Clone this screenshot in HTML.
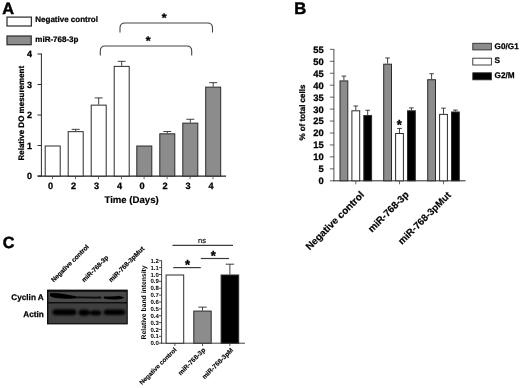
<!DOCTYPE html>
<html><head><meta charset="utf-8"><title>Figure</title>
<style>
html,body{margin:0;padding:0;background:#fff;}
body{width:520px;height:388px;overflow:hidden;font-family:"Liberation Sans",Arial,sans-serif;}
svg{display:block}
svg text{font-family:"Liberation Sans",Arial,sans-serif;text-rendering:geometricPrecision;}
</style></head><body>
<svg width="520" height="388" viewBox="0 0 520 388">
<rect x="0" y="0" width="520" height="388" fill="#fff"/>
<text x="2.2" y="13.7" font-size="16.3" font-weight="bold" stroke="#000" stroke-width="0.49" text-anchor="start" fill="#000">A</text>
<rect x="7" y="17.1" width="24.4" height="8.9" fill="#fff" stroke="#303030" stroke-width="1.25"/>
<rect x="7" y="36" width="24.2" height="8.7" fill="#8c8c8c" stroke="#303030" stroke-width="1.25"/>
<text x="35.3" y="22" font-size="8" font-weight="bold" stroke="#000" stroke-width="0.24" text-anchor="start" fill="#000">Negative control</text>
<text x="35.3" y="42" font-size="8" font-weight="bold" stroke="#000" stroke-width="0.24" text-anchor="start" fill="#000">miR-768-3p</text>
<line x1="41.4" y1="53.5" x2="41.4" y2="176.5" stroke="#2b2b2b" stroke-width="1"/>
<line x1="37.7" y1="176.1" x2="226" y2="176.1" stroke="#222" stroke-width="1.1"/>
<line x1="37.5" y1="176.0" x2="41.4" y2="176.0" stroke="#2b2b2b" stroke-width="1"/>
<text x="32" y="179.2" font-size="9" font-weight="bold" stroke="#000" stroke-width="0.27" text-anchor="end" fill="#000">0</text>
<line x1="37.5" y1="145.5" x2="41.4" y2="145.5" stroke="#2b2b2b" stroke-width="1"/>
<text x="32" y="148.7" font-size="9" font-weight="bold" stroke="#000" stroke-width="0.27" text-anchor="end" fill="#000">1</text>
<line x1="37.5" y1="115.0" x2="41.4" y2="115.0" stroke="#2b2b2b" stroke-width="1"/>
<text x="32" y="118.2" font-size="9" font-weight="bold" stroke="#000" stroke-width="0.27" text-anchor="end" fill="#000">2</text>
<line x1="37.5" y1="84.5" x2="41.4" y2="84.5" stroke="#2b2b2b" stroke-width="1"/>
<text x="32" y="87.7" font-size="9" font-weight="bold" stroke="#000" stroke-width="0.27" text-anchor="end" fill="#000">3</text>
<line x1="37.5" y1="54.0" x2="41.4" y2="54.0" stroke="#2b2b2b" stroke-width="1"/>
<text x="32" y="57.2" font-size="9" font-weight="bold" stroke="#000" stroke-width="0.27" text-anchor="end" fill="#000">4</text>
<text x="24.3" y="113.2" font-size="8.0" font-weight="bold" stroke="#000" stroke-width="0.24" text-anchor="middle" fill="#000" transform="rotate(-90 24.3 113.2)">Relative DO mesurement</text>
<rect x="45.2" y="146.0" width="15.0" height="30.0" fill="#fff" stroke="#2b2b2b" stroke-width="1"/>
<line x1="52.5" y1="176.0" x2="52.5" y2="179.2" stroke="#444" stroke-width="0.8"/>
<text x="50.5" y="188.9" font-size="9.2" font-weight="bold" stroke="#000" stroke-width="0.28" text-anchor="middle" fill="#000">0</text>
<line x1="75.7" y1="129.335" x2="75.7" y2="131.165" stroke="#2b2b2b" stroke-width="0.9"/>
<line x1="71.7" y1="129.335" x2="79.7" y2="129.335" stroke="#2b2b2b" stroke-width="0.9"/>
<rect x="68.2" y="131.665" width="15.0" height="44.33500000000001" fill="#fff" stroke="#2b2b2b" stroke-width="1"/>
<line x1="75.5" y1="176.0" x2="75.5" y2="179.2" stroke="#444" stroke-width="0.8"/>
<text x="73.5" y="188.9" font-size="9.2" font-weight="bold" stroke="#000" stroke-width="0.28" text-anchor="middle" fill="#000">2</text>
<line x1="98.7" y1="97.92" x2="98.7" y2="104.63000000000001" stroke="#2b2b2b" stroke-width="0.9"/>
<line x1="94.7" y1="97.92" x2="102.7" y2="97.92" stroke="#2b2b2b" stroke-width="0.9"/>
<rect x="91.2" y="105.13000000000001" width="15.0" height="70.86999999999999" fill="#fff" stroke="#2b2b2b" stroke-width="1"/>
<line x1="98.5" y1="176.0" x2="98.5" y2="179.2" stroke="#444" stroke-width="0.8"/>
<text x="96.5" y="188.9" font-size="9.2" font-weight="bold" stroke="#000" stroke-width="0.28" text-anchor="middle" fill="#000">3</text>
<line x1="121.69999999999999" y1="61.32000000000001" x2="121.69999999999999" y2="65.89500000000001" stroke="#2b2b2b" stroke-width="0.9"/>
<line x1="117.69999999999999" y1="61.32000000000001" x2="125.69999999999999" y2="61.32000000000001" stroke="#2b2b2b" stroke-width="0.9"/>
<rect x="114.2" y="66.39500000000001" width="14.999999999999986" height="109.60499999999999" fill="#fff" stroke="#2b2b2b" stroke-width="1"/>
<line x1="121.49999999999999" y1="176.0" x2="121.49999999999999" y2="179.2" stroke="#444" stroke-width="0.8"/>
<text x="119.49999999999999" y="188.9" font-size="9.2" font-weight="bold" stroke="#000" stroke-width="0.28" text-anchor="middle" fill="#000">4</text>
<rect x="136.8" y="146.0" width="15.0" height="30.0" fill="#8c8c8c" stroke="#2b2b2b" stroke-width="1"/>
<line x1="144.10000000000002" y1="176.0" x2="144.10000000000002" y2="179.2" stroke="#444" stroke-width="0.8"/>
<text x="142.10000000000002" y="188.9" font-size="9.2" font-weight="bold" stroke="#000" stroke-width="0.28" text-anchor="middle" fill="#000">0</text>
<line x1="167.3" y1="131.47" x2="167.3" y2="133.3" stroke="#2b2b2b" stroke-width="0.9"/>
<line x1="163.3" y1="131.47" x2="171.3" y2="131.47" stroke="#2b2b2b" stroke-width="0.9"/>
<rect x="159.8" y="133.8" width="15.0" height="42.19999999999999" fill="#8c8c8c" stroke="#2b2b2b" stroke-width="1"/>
<line x1="167.10000000000002" y1="176.0" x2="167.10000000000002" y2="179.2" stroke="#444" stroke-width="0.8"/>
<text x="165.10000000000002" y="188.9" font-size="9.2" font-weight="bold" stroke="#000" stroke-width="0.28" text-anchor="middle" fill="#000">2</text>
<line x1="190.3" y1="119.27" x2="190.3" y2="122.625" stroke="#2b2b2b" stroke-width="0.9"/>
<line x1="186.3" y1="119.27" x2="194.3" y2="119.27" stroke="#2b2b2b" stroke-width="0.9"/>
<rect x="182.8" y="123.125" width="15.0" height="52.875" fill="#8c8c8c" stroke="#2b2b2b" stroke-width="1"/>
<line x1="190.10000000000002" y1="176.0" x2="190.10000000000002" y2="179.2" stroke="#444" stroke-width="0.8"/>
<text x="188.10000000000002" y="188.9" font-size="9.2" font-weight="bold" stroke="#000" stroke-width="0.28" text-anchor="middle" fill="#000">3</text>
<line x1="213.2" y1="82.67" x2="213.2" y2="86.63499999999999" stroke="#2b2b2b" stroke-width="0.9"/>
<line x1="209.2" y1="82.67" x2="217.2" y2="82.67" stroke="#2b2b2b" stroke-width="0.9"/>
<rect x="205.7" y="87.13499999999999" width="15.0" height="88.86500000000001" fill="#8c8c8c" stroke="#2b2b2b" stroke-width="1"/>
<line x1="213.0" y1="176.0" x2="213.0" y2="179.2" stroke="#444" stroke-width="0.8"/>
<text x="211.0" y="188.9" font-size="9.2" font-weight="bold" stroke="#000" stroke-width="0.28" text-anchor="middle" fill="#000">4</text>
<text x="131.6" y="203.3" font-size="9.6" font-weight="bold" stroke="#000" stroke-width="0.17" text-anchor="middle" fill="#000">Time (Days)</text>
<path d="M120,32.5 V28 Q120,23 125,23 H207.5 Q212.5,23 212.5,28 V32.5" fill="none" stroke="#444" stroke-width="1.1"/>
<path d="M100.3,55.5 V51 Q100.3,46 105.3,46 H186.7 Q191.7,46 191.7,51 V55.5" fill="none" stroke="#444" stroke-width="1.1"/>
<text x="164.2" y="22.2" font-size="12.5" font-weight="bold" stroke="#000" stroke-width="0.38" text-anchor="middle" fill="#000">*</text>
<text x="148.2" y="45.3" font-size="12.5" font-weight="bold" stroke="#000" stroke-width="0.38" text-anchor="middle" fill="#000">*</text>
<text x="294.2" y="14.4" font-size="16.6" font-weight="bold" stroke="#000" stroke-width="0.5" text-anchor="start" fill="#000">B</text>
<line x1="333.9" y1="49" x2="333.9" y2="181.3" stroke="#3a3a3a" stroke-width="0.9"/>
<line x1="333.4" y1="180.8" x2="465.5" y2="180.8" stroke="#2b2b2b" stroke-width="1"/>
<line x1="329.9" y1="180.8" x2="333.9" y2="180.8" stroke="#3a3a3a" stroke-width="0.8"/>
<text x="323.7" y="184.20000000000002" font-size="9.4" font-weight="bold" stroke="#000" stroke-width="0.28" text-anchor="end" fill="#000">0</text>
<line x1="329.9" y1="168.85000000000002" x2="333.9" y2="168.85000000000002" stroke="#3a3a3a" stroke-width="0.8"/>
<text x="323.7" y="172.25000000000003" font-size="9.4" font-weight="bold" stroke="#000" stroke-width="0.28" text-anchor="end" fill="#000">5</text>
<line x1="329.9" y1="156.9" x2="333.9" y2="156.9" stroke="#3a3a3a" stroke-width="0.8"/>
<text x="323.7" y="160.3" font-size="9.4" font-weight="bold" stroke="#000" stroke-width="0.28" text-anchor="end" fill="#000">10</text>
<line x1="329.9" y1="144.95000000000002" x2="333.9" y2="144.95000000000002" stroke="#3a3a3a" stroke-width="0.8"/>
<text x="323.7" y="148.35000000000002" font-size="9.4" font-weight="bold" stroke="#000" stroke-width="0.28" text-anchor="end" fill="#000">15</text>
<line x1="329.9" y1="133.0" x2="333.9" y2="133.0" stroke="#3a3a3a" stroke-width="0.8"/>
<text x="323.7" y="136.4" font-size="9.4" font-weight="bold" stroke="#000" stroke-width="0.28" text-anchor="end" fill="#000">20</text>
<line x1="329.9" y1="121.05000000000001" x2="333.9" y2="121.05000000000001" stroke="#3a3a3a" stroke-width="0.8"/>
<text x="323.7" y="124.45000000000002" font-size="9.4" font-weight="bold" stroke="#000" stroke-width="0.28" text-anchor="end" fill="#000">25</text>
<line x1="329.9" y1="109.10000000000001" x2="333.9" y2="109.10000000000001" stroke="#3a3a3a" stroke-width="0.8"/>
<text x="323.7" y="112.50000000000001" font-size="9.4" font-weight="bold" stroke="#000" stroke-width="0.28" text-anchor="end" fill="#000">30</text>
<line x1="329.9" y1="97.15" x2="333.9" y2="97.15" stroke="#3a3a3a" stroke-width="0.8"/>
<text x="323.7" y="100.55000000000001" font-size="9.4" font-weight="bold" stroke="#000" stroke-width="0.28" text-anchor="end" fill="#000">35</text>
<line x1="329.9" y1="85.2" x2="333.9" y2="85.2" stroke="#3a3a3a" stroke-width="0.8"/>
<text x="323.7" y="88.60000000000001" font-size="9.4" font-weight="bold" stroke="#000" stroke-width="0.28" text-anchor="end" fill="#000">40</text>
<line x1="329.9" y1="73.25" x2="333.9" y2="73.25" stroke="#3a3a3a" stroke-width="0.8"/>
<text x="323.7" y="76.65" font-size="9.4" font-weight="bold" stroke="#000" stroke-width="0.28" text-anchor="end" fill="#000">45</text>
<line x1="329.9" y1="61.30000000000001" x2="333.9" y2="61.30000000000001" stroke="#3a3a3a" stroke-width="0.8"/>
<text x="323.7" y="64.70000000000002" font-size="9.4" font-weight="bold" stroke="#000" stroke-width="0.28" text-anchor="end" fill="#000">50</text>
<line x1="329.9" y1="49.349999999999994" x2="333.9" y2="49.349999999999994" stroke="#3a3a3a" stroke-width="0.8"/>
<text x="323.7" y="52.74999999999999" font-size="9.4" font-weight="bold" stroke="#000" stroke-width="0.28" text-anchor="end" fill="#000">55</text>
<text x="305.4" y="112.6" font-size="8.0" font-weight="bold" stroke="#000" stroke-width="0.24" text-anchor="middle" fill="#000" transform="rotate(-90 305.4 112.6)">% of total cells</text>
<line x1="343.9" y1="76.11800000000001" x2="343.9" y2="80.42" stroke="#2b2b2b" stroke-width="0.9"/>
<line x1="341.59999999999997" y1="76.11800000000001" x2="346.2" y2="76.11800000000001" stroke="#2b2b2b" stroke-width="0.9"/>
<rect x="340.0" y="80.92" width="7.800000000000011" height="99.88000000000001" fill="#8c8c8c" stroke="#2b2b2b" stroke-width="1"/>
<line x1="355.79999999999995" y1="105.99300000000001" x2="355.79999999999995" y2="110.295" stroke="#2b2b2b" stroke-width="0.9"/>
<line x1="353.49999999999994" y1="105.99300000000001" x2="358.09999999999997" y2="105.99300000000001" stroke="#2b2b2b" stroke-width="0.9"/>
<rect x="351.9" y="110.795" width="7.800000000000011" height="70.00500000000001" fill="#fff" stroke="#2b2b2b" stroke-width="1"/>
<line x1="367.70000000000005" y1="110.295" x2="367.70000000000005" y2="115.075" stroke="#2b2b2b" stroke-width="0.9"/>
<line x1="365.40000000000003" y1="110.295" x2="370.00000000000006" y2="110.295" stroke="#2b2b2b" stroke-width="0.9"/>
<rect x="363.8" y="115.575" width="7.800000000000011" height="65.22500000000001" fill="#000" stroke="#2b2b2b" stroke-width="1"/>
<line x1="355.79999999999995" y1="180.8" x2="355.79999999999995" y2="184.3" stroke="#444" stroke-width="0.8"/>
<line x1="387.6" y1="57.95400000000001" x2="387.6" y2="63.69000000000001" stroke="#2b2b2b" stroke-width="0.9"/>
<line x1="385.3" y1="57.95400000000001" x2="389.90000000000003" y2="57.95400000000001" stroke="#2b2b2b" stroke-width="0.9"/>
<rect x="383.7" y="64.19000000000001" width="7.800000000000011" height="116.61" fill="#8c8c8c" stroke="#2b2b2b" stroke-width="1"/>
<line x1="399.5" y1="128.459" x2="399.5" y2="133.0" stroke="#2b2b2b" stroke-width="0.9"/>
<line x1="397.2" y1="128.459" x2="401.8" y2="128.459" stroke="#2b2b2b" stroke-width="0.9"/>
<rect x="395.59999999999997" y="133.5" width="7.800000000000011" height="47.30000000000001" fill="#fff" stroke="#2b2b2b" stroke-width="1"/>
<line x1="411.4" y1="107.905" x2="411.4" y2="110.295" stroke="#2b2b2b" stroke-width="0.9"/>
<line x1="409.09999999999997" y1="107.905" x2="413.7" y2="107.905" stroke="#2b2b2b" stroke-width="0.9"/>
<rect x="407.5" y="110.795" width="7.800000000000011" height="70.00500000000001" fill="#000" stroke="#2b2b2b" stroke-width="1"/>
<line x1="399.49999999999994" y1="180.8" x2="399.49999999999994" y2="184.3" stroke="#444" stroke-width="0.8"/>
<line x1="431.6" y1="73.72800000000001" x2="431.6" y2="79.22500000000001" stroke="#2b2b2b" stroke-width="0.9"/>
<line x1="429.3" y1="73.72800000000001" x2="433.90000000000003" y2="73.72800000000001" stroke="#2b2b2b" stroke-width="0.9"/>
<rect x="427.7" y="79.72500000000001" width="7.800000000000011" height="101.075" fill="#8c8c8c" stroke="#2b2b2b" stroke-width="1"/>
<line x1="443.5" y1="108.144" x2="443.5" y2="113.88000000000001" stroke="#2b2b2b" stroke-width="0.9"/>
<line x1="441.2" y1="108.144" x2="445.8" y2="108.144" stroke="#2b2b2b" stroke-width="0.9"/>
<rect x="439.59999999999997" y="114.38000000000001" width="7.800000000000011" height="66.42" fill="#fff" stroke="#2b2b2b" stroke-width="1"/>
<line x1="455.4" y1="110.056" x2="455.4" y2="111.49000000000001" stroke="#2b2b2b" stroke-width="0.9"/>
<line x1="453.09999999999997" y1="110.056" x2="457.7" y2="110.056" stroke="#2b2b2b" stroke-width="0.9"/>
<rect x="451.5" y="111.99000000000001" width="7.800000000000011" height="68.81" fill="#000" stroke="#2b2b2b" stroke-width="1"/>
<line x1="443.49999999999994" y1="180.8" x2="443.49999999999994" y2="184.3" stroke="#444" stroke-width="0.8"/>
<text x="399.3" y="129" font-size="13" font-weight="bold" stroke="#000" stroke-width="0.39" text-anchor="middle" fill="#000">*</text>
<rect x="472.8" y="43.3" width="18.6" height="6.6" fill="#8c8c8c" stroke="#2b2b2b" stroke-width="0.9"/>
<rect x="472.8" y="58.2" width="18.6" height="6.8" fill="#fff" stroke="#2b2b2b" stroke-width="0.9"/>
<rect x="472.8" y="72.8" width="18.6" height="7.0" fill="#000" stroke="#2b2b2b" stroke-width="0.9"/>
<text x="494.6" y="48.6" font-size="8.2" font-weight="bold" stroke="#000" stroke-width="0.25" text-anchor="start" fill="#000">G0/G1</text>
<text x="494.6" y="63.2" font-size="8.2" font-weight="bold" stroke="#000" stroke-width="0.25" text-anchor="start" fill="#000">S</text>
<text x="494.6" y="78.2" font-size="8.2" font-weight="bold" stroke="#000" stroke-width="0.25" text-anchor="start" fill="#000">G2/M</text>
<text x="364.8" y="195.4" font-size="9.95" font-weight="bold" stroke="#000" stroke-width="0.18" text-anchor="end" fill="#000" transform="rotate(-45 364.8 195.4)">Negative control</text>
<text x="409.5" y="195.3" font-size="9.85" font-weight="bold" stroke="#000" stroke-width="0.18" text-anchor="end" fill="#000" transform="rotate(-45 409.5 195.3)">miR-768-3p</text>
<text x="451.5" y="195.7" font-size="9.75" font-weight="bold" stroke="#000" stroke-width="0.18" text-anchor="end" fill="#000" transform="rotate(-45 451.5 195.7)">miR-768-3pMut</text>
<text x="2.8" y="248.3" font-size="16.2" font-weight="bold" stroke="#000" stroke-width="0.49" text-anchor="start" fill="#000">C</text>
<text x="43.8" y="300" font-size="8.2" font-weight="bold" stroke="#000" stroke-width="0.25" text-anchor="end" fill="#000">Cyclin A</text>
<text x="43.8" y="317.3" font-size="8.2" font-weight="bold" stroke="#000" stroke-width="0.25" text-anchor="end" fill="#000">Actin</text>
<defs><filter id="bl" x="-20%" y="-50%" width="140%" height="200%"><feGaussianBlur stdDeviation="0.85"/></filter><filter id="bl2" x="-20%" y="-50%" width="140%" height="200%"><feGaussianBlur stdDeviation="0.55"/></filter></defs>
<rect x="47" y="289.6" width="80.8" height="34.8" fill="#0e0e0e"/>
<rect x="48.4" y="291.8" width="78.2" height="10.2" fill="#484848"/>
<rect x="48.4" y="303.4" width="78.2" height="19.8" fill="#3f3f3f"/>
<g filter="url(#bl2)" fill="#060606">
<path d="M50,293.2 Q56,292.6 64,294 Q71,295.2 76,296.2 L76,298.2 Q70,299 62,298.6 Q53,298 50,296 Z"/>
<path d="M75.5,296.5 L97,296.7 Q99.5,296.2 101.3,296.8 L101.3,298.4 L75.5,298.2 Z" fill="#0c0c0c"/>
<path d="M103.7,296.6 Q111,296.6 116,296.2 Q118,295.2 119.6,296 Q122.5,296.6 124.6,297.8 Q121,299.8 115,299.6 Q108,299.4 103.7,298.6 Z"/>
</g><g filter="url(#bl)" fill="#060606">
<rect x="52.4" y="309.3" width="24" height="6" rx="3.4" ry="3"/>
<rect x="78.6" y="309.6" width="10.9" height="6.1" rx="4" ry="3"/>
<rect x="90.3" y="310.2" width="11" height="5.2" rx="4" ry="2.6"/>
<rect x="86" y="311.6" width="8" height="2.6"/>
<rect x="103.7" y="309.5" width="21.6" height="5.6" rx="3.4" ry="2.8"/>
</g>
<text x="53.8" y="282.6" font-size="6.4" font-weight="bold" stroke="#000" stroke-width="0.18" text-anchor="start" fill="#000" transform="rotate(-45 53.8 282.6)">Negative control</text>
<text x="84.3" y="282.6" font-size="6.45" font-weight="bold" stroke="#000" stroke-width="0.18" text-anchor="start" fill="#000" transform="rotate(-45 84.3 282.6)">miR-768-3p</text>
<text x="111.3" y="282.6" font-size="6.6" font-weight="bold" stroke="#000" stroke-width="0.18" text-anchor="start" fill="#000" transform="rotate(-45 111.3 282.6)">miR-768-3pMut</text>
<line x1="161.6" y1="260.4" x2="161.6" y2="343.7" stroke="#2b2b2b" stroke-width="0.9"/>
<line x1="161.1" y1="343.2" x2="245" y2="343.2" stroke="#2b2b2b" stroke-width="0.9"/>
<line x1="159.0" y1="343.2" x2="161.6" y2="343.2" stroke="#2b2b2b" stroke-width="0.8"/>
<text x="158.8" y="345.3" font-size="6" font-weight="bold" stroke="#000" stroke-width="0" text-anchor="end" fill="#000">0.0</text>
<line x1="159.0" y1="336.33" x2="161.6" y2="336.33" stroke="#2b2b2b" stroke-width="0.8"/>
<text x="158.8" y="338.43" font-size="6" font-weight="bold" stroke="#000" stroke-width="0" text-anchor="end" fill="#000">0.1</text>
<line x1="159.0" y1="329.46" x2="161.6" y2="329.46" stroke="#2b2b2b" stroke-width="0.8"/>
<text x="158.8" y="331.56" font-size="6" font-weight="bold" stroke="#000" stroke-width="0" text-anchor="end" fill="#000">0.2</text>
<line x1="159.0" y1="322.59" x2="161.6" y2="322.59" stroke="#2b2b2b" stroke-width="0.8"/>
<text x="158.8" y="324.69" font-size="6" font-weight="bold" stroke="#000" stroke-width="0" text-anchor="end" fill="#000">0.3</text>
<line x1="159.0" y1="315.71999999999997" x2="161.6" y2="315.71999999999997" stroke="#2b2b2b" stroke-width="0.8"/>
<text x="158.8" y="317.82" font-size="6" font-weight="bold" stroke="#000" stroke-width="0" text-anchor="end" fill="#000">0.4</text>
<line x1="159.0" y1="308.84999999999997" x2="161.6" y2="308.84999999999997" stroke="#2b2b2b" stroke-width="0.8"/>
<text x="158.8" y="310.95" font-size="6" font-weight="bold" stroke="#000" stroke-width="0" text-anchor="end" fill="#000">0.5</text>
<line x1="159.0" y1="301.97999999999996" x2="161.6" y2="301.97999999999996" stroke="#2b2b2b" stroke-width="0.8"/>
<text x="158.8" y="304.08" font-size="6" font-weight="bold" stroke="#000" stroke-width="0" text-anchor="end" fill="#000">0.6</text>
<line x1="159.0" y1="295.11" x2="161.6" y2="295.11" stroke="#2b2b2b" stroke-width="0.8"/>
<text x="158.8" y="297.21000000000004" font-size="6" font-weight="bold" stroke="#000" stroke-width="0" text-anchor="end" fill="#000">0.7</text>
<line x1="159.0" y1="288.24" x2="161.6" y2="288.24" stroke="#2b2b2b" stroke-width="0.8"/>
<text x="158.8" y="290.34000000000003" font-size="6" font-weight="bold" stroke="#000" stroke-width="0" text-anchor="end" fill="#000">0.8</text>
<line x1="159.0" y1="281.37" x2="161.6" y2="281.37" stroke="#2b2b2b" stroke-width="0.8"/>
<text x="158.8" y="283.47" font-size="6" font-weight="bold" stroke="#000" stroke-width="0" text-anchor="end" fill="#000">0.9</text>
<line x1="159.0" y1="274.5" x2="161.6" y2="274.5" stroke="#2b2b2b" stroke-width="0.8"/>
<text x="158.8" y="276.6" font-size="6" font-weight="bold" stroke="#000" stroke-width="0" text-anchor="end" fill="#000">1.0</text>
<line x1="159.0" y1="267.63" x2="161.6" y2="267.63" stroke="#2b2b2b" stroke-width="0.8"/>
<text x="158.8" y="269.73" font-size="6" font-weight="bold" stroke="#000" stroke-width="0" text-anchor="end" fill="#000">1.1</text>
<line x1="159.0" y1="260.76" x2="161.6" y2="260.76" stroke="#2b2b2b" stroke-width="0.8"/>
<text x="158.8" y="262.86" font-size="6" font-weight="bold" stroke="#000" stroke-width="0" text-anchor="end" fill="#000">1.2</text>
<text x="145.8" y="302.4" font-size="6.8" font-weight="bold" stroke="#000" stroke-width="0.0" text-anchor="middle" fill="#000" transform="rotate(-90 145.8 302.4)">Relative band intensity</text>
<rect x="166.1" y="275.0" width="17.599999999999994" height="68.19999999999999" fill="#fff" stroke="#2b2b2b" stroke-width="1"/>
<line x1="202.5" y1="307.1325" x2="202.5" y2="310.5675" stroke="#2b2b2b" stroke-width="0.9"/>
<line x1="198.3" y1="307.1325" x2="206.7" y2="307.1325" stroke="#2b2b2b" stroke-width="0.9"/>
<rect x="193.8" y="311.0675" width="17.399999999999977" height="32.13249999999999" fill="#8c8c8c" stroke="#2b2b2b" stroke-width="1"/>
<line x1="229.89999999999998" y1="264.195" x2="229.89999999999998" y2="274.5" stroke="#2b2b2b" stroke-width="0.9"/>
<line x1="225.7" y1="264.195" x2="234.09999999999997" y2="264.195" stroke="#2b2b2b" stroke-width="0.9"/>
<rect x="221.1" y="275.0" width="17.599999999999994" height="68.19999999999999" fill="#000" stroke="#2b2b2b" stroke-width="1"/>
<line x1="174.9" y1="343.2" x2="174.9" y2="346.0" stroke="#2b2b2b" stroke-width="0.8"/>
<line x1="202.5" y1="343.2" x2="202.5" y2="346.0" stroke="#2b2b2b" stroke-width="0.8"/>
<line x1="229.9" y1="343.2" x2="229.9" y2="346.0" stroke="#2b2b2b" stroke-width="0.8"/>
<line x1="172.5" y1="245.3" x2="233" y2="245.3" stroke="#3c3c3c" stroke-width="1.2"/>
<line x1="200.8" y1="258.5" x2="229" y2="258.5" stroke="#3c3c3c" stroke-width="1.2"/>
<line x1="173.2" y1="267.6" x2="200.8" y2="267.6" stroke="#3c3c3c" stroke-width="1.2"/>
<text x="202" y="242.6" font-size="7.6" text-anchor="middle" fill="#111" stroke="#111" stroke-width="0.2">ns</text>
<text x="213.2" y="260" font-size="13" font-weight="bold" stroke="#000" stroke-width="0.39" text-anchor="middle" fill="#000">*</text>
<text x="187.6" y="269.3" font-size="13" font-weight="bold" stroke="#000" stroke-width="0.39" text-anchor="middle" fill="#000">*</text>
<text x="176.9" y="350.2" font-size="6.3" font-weight="bold" stroke="#000" stroke-width="0.12" text-anchor="end" fill="#000" transform="rotate(-45 176.9 350.2)">Negative control</text>
<text x="205.8" y="350.5" font-size="6.6" font-weight="bold" stroke="#000" stroke-width="0.12" text-anchor="end" fill="#000" transform="rotate(-45 205.8 350.5)">miR-768-3p</text>
<text x="233.7" y="350.5" font-size="6.6" font-weight="bold" stroke="#000" stroke-width="0.12" text-anchor="end" fill="#000" transform="rotate(-45 233.7 350.5)">miR-768-3pM</text>
</svg>
</body></html>
